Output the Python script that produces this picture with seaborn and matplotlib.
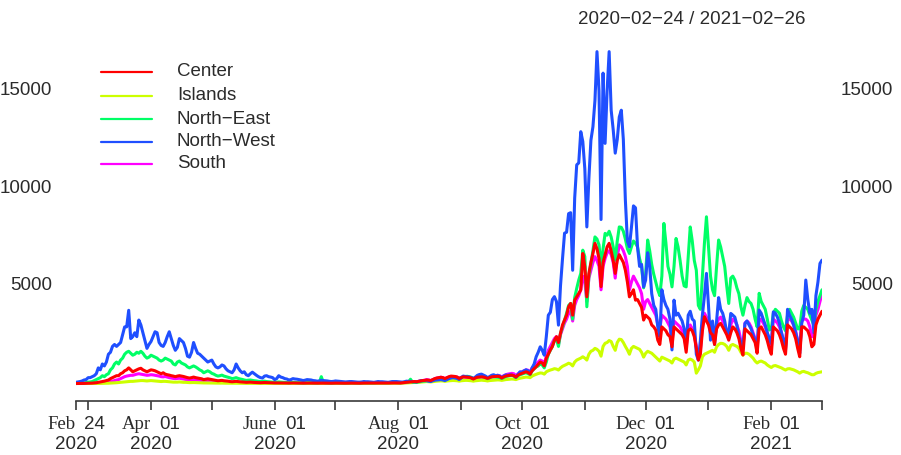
import numpy as np
import pandas as pd
import matplotlib
matplotlib.use("Agg")
import matplotlib.pyplot as plt
import matplotlib.dates as mdates
import matplotlib.transforms as mtransforms
from matplotlib.lines import Line2D
from matplotlib.offsetbox import TextArea, HPacker, AnnotationBbox
import seaborn as sns

# Daily new cases by macro-region, 2020-02-24 .. 2021-02-26 (one row per week, Mon..Sun)
center = [
    0, 0, 2, 3, 5, 8, 10,
    15, 20, 30, 40, 60, 80, 100,
    120, 150, 180, 250, 300, 350, 400,
    400, 500, 550, 650, 700, 800, 700,
    600, 650, 700, 750, 780, 700, 650,
    600, 650, 700, 680, 650, 600, 550,
    500, 550, 480, 450, 430, 400, 380,
    350, 380, 400, 380, 360, 330, 300,
    280, 300, 330, 300, 280, 260, 240,
    200, 220, 240, 220, 200, 180, 160,
    140, 150, 160, 140, 130, 120, 100,
    90, 100, 110, 95, 85, 80, 70,
    60, 65, 70, 60, 55, 50, 45,
    40, 45, 50, 45, 40, 35, 30,
    30, 30, 35, 30, 28, 25, 25,
    22, 25, 28, 25, 22, 20, 20,
    18, 20, 25, 22, 20, 18, 18,
    18, 20, 22, 20, 18, 16, 15,
    15, 18, 20, 18, 16, 15, 15,
    15, 18, 20, 20, 18, 16, 15,
    15, 20, 22, 22, 20, 18, 18,
    18, 22, 25, 25, 22, 20, 20,
    20, 25, 30, 30, 28, 25, 25,
    40, 50, 60, 70, 80, 90, 100,
    90, 110, 130, 150, 160, 180, 170,
    150, 200, 250, 280, 300, 320, 300,
    250, 300, 350, 380, 370, 360, 330,
    260, 300, 340, 330, 320, 310, 280,
    230, 280, 320, 330, 340, 330, 300,
    260, 300, 340, 350, 360, 370, 350,
    280, 340, 380, 400, 420, 430, 400,
    330, 420, 480, 520, 560, 600, 560,
    480, 650, 760, 860, 980, 1100, 1050,
    900, 1300, 1500, 1720, 1900, 2200, 2400,
    2100, 2580, 3000, 3250, 3500, 3930, 4100,
    3500, 4270, 4440, 4600, 4790, 6660, 5980,
    4440, 5640, 6200, 6660, 7180, 6900, 6400,
    4960, 6200, 6600, 7000, 7180, 6800, 6300,
    5640, 6300, 6600, 6400, 6200, 5800, 5200,
    4440, 4600, 4800, 4270, 4300, 4100, 3900,
    3250, 3500, 3400, 3300, 3000, 2900, 2740,
    2220, 2000, 2900, 2800, 2700, 2500, 2400,
    1880, 2900, 2800, 2700, 2600, 2500, 2300,
    1600, 2700, 2800, 2700, 2400, 1800, 1200,
    1500, 2700, 3420, 3200, 3000, 2600, 2500,
    2000, 2800, 3000, 3080, 2900, 2700, 2500,
    2220, 2600, 2900, 2800, 2600, 2300, 1800,
    1460, 2800, 2700, 2600, 2500, 2300, 2100,
    1550, 2800, 2900, 2700, 2500, 2200, 1800,
    1500, 2900, 2800, 2700, 2500, 2200, 1800,
    1500, 3000, 2900, 2800, 2600, 2300, 1800,
    1370, 2900, 2900, 2800, 2700, 2400, 1880,
    2000, 3000, 3300, 3500, 3700,
]

islands = [
    0, 0, 0, 0, 0, 0, 1,
    1, 2, 3, 4, 5, 6, 8,
    10, 12, 15, 20, 25, 30, 40,
    50, 60, 70, 80, 90, 100, 110,
    110, 120, 130, 140, 150, 150, 140,
    130, 140, 150, 140, 130, 120, 110,
    100, 110, 110, 100, 90, 80, 70,
    70, 70, 80, 70, 60, 60, 50,
    45, 50, 50, 45, 40, 35, 30,
    30, 30, 30, 25, 25, 20, 20,
    18, 18, 20, 16, 15, 14, 12,
    12, 12, 14, 12, 10, 10, 8,
    8, 8, 10, 8, 7, 6, 6,
    5, 6, 7, 6, 5, 5, 4,
    4, 5, 6, 5, 4, 4, 4,
    4, 5, 6, 5, 4, 4, 4,
    4, 5, 6, 5, 4, 4, 4,
    4, 5, 6, 5, 4, 4, 4,
    4, 5, 6, 5, 5, 4, 4,
    5, 6, 7, 6, 6, 5, 5,
    6, 7, 8, 8, 7, 6, 6,
    8, 9, 10, 10, 9, 8, 8,
    10, 12, 14, 14, 12, 12, 12,
    20, 25, 30, 35, 40, 45, 50,
    50, 60, 70, 80, 90, 100, 90,
    80, 95, 110, 120, 130, 135, 130,
    110, 130, 140, 150, 155, 150, 140,
    120, 140, 150, 160, 160, 150, 140,
    120, 140, 150, 160, 170, 160, 150,
    130, 150, 160, 170, 180, 185, 180,
    160, 180, 200, 210, 220, 230, 220,
    200, 240, 270, 290, 310, 330, 320,
    300, 380, 430, 470, 510, 540, 530,
    480, 600, 650, 690, 720, 760, 740,
    690, 800, 880, 930, 980, 1040, 1000,
    900, 1100, 1200, 1250, 1300, 1370, 1300,
    1200, 1500, 1650, 1700, 1800, 1750, 1650,
    1400, 1900, 2060, 2100, 2200, 2150, 1900,
    1700, 2100, 2270, 2250, 2100, 1900, 1720,
    1500, 1800, 1900, 1850, 1800, 1750, 1600,
    1350, 1550, 1650, 1600, 1550, 1450, 1350,
    1250, 1150, 1350, 1300, 1250, 1200, 1150,
    1050, 1250, 1300, 1250, 1200, 1150, 1100,
    950, 1200, 1250, 1200, 1100, 530, 700,
    900, 1370, 1500, 1550, 1600, 1650, 1700,
    1600, 1880, 2000, 2060, 2050, 2000, 1900,
    1700, 1950, 2000, 1950, 1900, 1800, 1600,
    1450, 1550, 1550, 1500, 1400, 1300, 1150,
    1050, 1120, 1150, 1100, 1050, 950, 880,
    820, 900, 920, 880, 840, 800, 740,
    690, 750, 760, 730, 700, 650, 600,
    530, 600, 620, 580, 550, 500, 450,
    450, 520, 560, 580, 600,
]

north_east = [
    0, 5, 10, 20, 30, 50, 70,
    80, 100, 150, 200, 250, 300, 400,
    350, 450, 500, 700, 800, 1000, 1100,
    1000, 1200, 1300, 1500, 1600, 1650, 1550,
    1450, 1500, 1600, 1550, 1650, 1550, 1400,
    1300, 1350, 1450, 1400, 1350, 1300, 1200,
    1150, 1200, 1300, 1250, 1200, 1150, 1000,
    950, 1100, 1150, 1050, 1000, 950, 850,
    800, 850, 900, 850, 780, 700, 650,
    550, 600, 650, 600, 520, 480, 420,
    380, 400, 430, 380, 350, 320, 290,
    250, 270, 300, 260, 230, 210, 180,
    160, 170, 180, 160, 140, 130, 110,
    100, 110, 120, 100, 90, 80, 70,
    60, 70, 80, 70, 60, 55, 50,
    40, 50, 60, 50, 45, 40, 40,
    35, 40, 50, 45, 40, 40, 35,
    30, 40, 350, 60, 40, 35, 30,
    30, 35, 40, 40, 35, 30, 30,
    30, 35, 40, 40, 35, 30, 30,
    30, 40, 45, 45, 40, 35, 35,
    35, 45, 50, 50, 45, 40, 40,
    40, 50, 60, 60, 55, 50, 45,
    50, 60, 70, 75, 220, 65, 60,
    60, 80, 100, 120, 130, 150, 130,
    120, 180, 220, 250, 260, 280, 250,
    200, 260, 300, 320, 340, 330, 300,
    250, 300, 350, 360, 370, 350, 320,
    250, 300, 330, 340, 350, 330, 300,
    250, 290, 330, 340, 330, 320, 300,
    260, 300, 360, 380, 400, 420, 380,
    300, 400, 450, 480, 520, 550, 500,
    450, 650, 750, 850, 900, 1000, 950,
    800, 1100, 1500, 1700, 1900, 2200, 2300,
    1900, 2560, 2900, 3250, 3600, 4000, 4100,
    3300, 4400, 4870, 5300, 5640, 6830, 6500,
    3930, 5500, 6150, 6800, 7510, 7400, 7100,
    5980, 6900, 7690, 7600, 7800, 7500, 7000,
    6320, 7300, 8020, 8000, 7800, 7400, 6900,
    6660, 7000, 7300, 7180, 7000, 6400, 6000,
    4900, 5600, 7350, 6800, 6100, 5600, 5200,
    4790, 4500, 5500, 8200, 7200, 6000, 5600,
    4950, 6000, 7430, 7000, 6300, 5500, 5000,
    4950, 6500, 8020, 7300, 6300, 5800, 4000,
    3800, 5500, 7180, 8540, 7000, 5500, 4800,
    4500, 6000, 7350, 7000, 6490, 6000, 5000,
    4100, 5400, 5500, 5300, 4900, 4600, 3930,
    3500, 4000, 4400, 4200, 4100, 3800, 3300,
    2900, 4620, 4200, 4000, 3800, 3300, 2740,
    2800, 3600, 3800, 3700, 3600, 3200, 2900,
    2700, 3500, 3800, 3600, 3400, 3100, 2800,
    2800, 3700, 4000, 3900, 3800, 3500, 3250,
    3000, 3800, 4200, 4500, 4800,
]

north_west = [
    60, 80, 100, 130, 180, 200, 300,
    300, 350, 400, 500, 800, 700, 1000,
    900, 1100, 1500, 1600, 1900, 2000, 1900,
    2000, 2100, 2500, 2900, 2900, 3750, 2300,
    2400, 2600, 2400, 3250, 3000, 2600, 2200,
    1800, 2000, 2150, 2400, 2650, 2600, 2100,
    1950, 1900, 2100, 2400, 2650, 2300, 1950,
    1700, 1850, 2300, 2200, 2100, 1800, 1400,
    1350, 1600, 2100, 1800, 1550, 1500, 1400,
    1300, 1200, 1100, 1150, 1200, 1000, 850,
    800, 850, 950, 900, 750, 650, 600,
    550, 700, 1000, 800, 650, 550, 600,
    450, 400, 500, 580, 500, 420, 350,
    300, 280, 380, 400, 350, 330, 300,
    200, 250, 400, 330, 300, 250, 230,
    180, 200, 250, 230, 220, 200, 180,
    150, 170, 200, 190, 180, 150, 140,
    120, 130, 170, 150, 140, 130, 110,
    100, 110, 130, 120, 110, 100, 90,
    80, 90, 100, 100, 90, 80, 70,
    70, 80, 100, 90, 90, 80, 70,
    60, 80, 100, 90, 90, 80, 70,
    60, 80, 100, 100, 100, 90, 80,
    70, 90, 120, 110, 110, 100, 90,
    80, 110, 140, 150, 150, 140, 120,
    100, 140, 170, 180, 190, 200, 180,
    150, 200, 250, 280, 300, 280, 260,
    200, 280, 380, 360, 350, 330, 300,
    250, 330, 420, 460, 480, 430, 380,
    300, 350, 420, 450, 400, 420, 380,
    300, 380, 440, 420, 450, 430, 400,
    320, 450, 600, 580, 650, 700, 650,
    500, 800, 1000, 1370, 1600, 1880, 1700,
    1450, 2400, 3500, 3650, 4300, 4450, 4200,
    2990, 5000, 6400, 7700, 7750, 8700, 8750,
    5800, 9500, 11200, 11300, 12900, 12400, 11000,
    8020, 10500, 12460, 13150, 14500, 17000, 15000,
    8400, 15900, 12300, 15000, 17000, 14000, 13000,
    11800, 12500, 13650, 14000, 12500, 9400, 7300,
    7000, 8000, 9100, 9000, 7000, 6000, 6100,
    4950, 5300, 6700, 6000, 4600, 4000, 3800,
    2900, 2400, 4800, 4300, 4000, 3800, 3300,
    1720, 4270, 3500, 3600, 3400, 3200, 2800,
    2000, 3500, 3700, 3300, 3200, 1500, 1200,
    2200, 3500, 4500, 5640, 4000, 2220, 3200,
    2000, 3200, 4400, 3800, 3600, 3200, 2600,
    2560, 3590, 3500, 3400, 3000, 2400, 2100,
    1880, 3080, 3200, 3000, 2800, 2500, 2200,
    1800, 3760, 3600, 3300, 3000, 2600, 2300,
    2050, 3670, 3600, 3400, 3100, 2600, 2200,
    1720, 3800, 3500, 3300, 3000, 2600, 2200,
    1540, 3100, 3500, 5300, 4300, 3600, 3800,
    2600, 4500, 5200, 6150, 6320,
]

south = [
    0, 0, 0, 1, 2, 3, 5,
    5, 8, 10, 15, 20, 30, 40,
    50, 60, 80, 100, 120, 150, 180,
    200, 250, 300, 350, 380, 400, 420,
    420, 450, 480, 500, 480, 460, 440,
    420, 430, 450, 440, 420, 400, 380,
    350, 340, 360, 330, 300, 280, 260,
    250, 260, 270, 250, 230, 210, 190,
    180, 190, 200, 180, 170, 160, 150,
    130, 140, 150, 130, 120, 110, 100,
    90, 100, 100, 90, 80, 70, 60,
    55, 60, 60, 55, 50, 45, 40,
    35, 40, 40, 35, 30, 30, 25,
    25, 28, 30, 26, 24, 22, 20,
    18, 20, 22, 20, 18, 16, 15,
    14, 15, 17, 15, 14, 13, 12,
    12, 13, 15, 14, 13, 12, 12,
    12, 13, 15, 14, 13, 12, 12,
    12, 13, 15, 14, 13, 12, 12,
    12, 14, 16, 15, 14, 13, 13,
    14, 16, 18, 17, 16, 15, 15,
    16, 18, 20, 20, 18, 17, 17,
    20, 22, 25, 25, 24, 22, 22,
    30, 40, 50, 60, 70, 80, 90,
    80, 110, 130, 150, 170, 200, 180,
    150, 200, 250, 280, 300, 320, 300,
    250, 300, 330, 350, 360, 350, 330,
    280, 320, 340, 330, 330, 320, 300,
    250, 300, 330, 340, 350, 340, 320,
    260, 320, 360, 380, 400, 420, 400,
    330, 400, 450, 480, 500, 520, 500,
    400, 500, 560, 600, 650, 700, 680,
    600, 800, 900, 1000, 1100, 1200, 1150,
    1000, 1400, 1700, 1900, 2100, 2300, 2400,
    2000, 2500, 2800, 3100, 3300, 3600, 3700,
    3200, 4000, 4300, 4500, 4800, 5500, 5200,
    4200, 5400, 5800, 6200, 6500, 6300, 6000,
    4800, 6000, 6400, 6700, 6800, 6600, 6200,
    5400, 6500, 7100, 7000, 6800, 6500, 6000,
    4800, 5200, 5500, 5300, 5100, 4900, 4600,
    3800, 4200, 4300, 4100, 3900, 3700, 3500,
    3000, 2800, 3500, 3400, 3300, 3100, 2900,
    2200, 3200, 3100, 3000, 2900, 2700, 2500,
    1800, 2900, 3000, 2800, 2500, 1900, 1400,
    1700, 2900, 3600, 3400, 3200, 2900, 2700,
    2200, 3000, 3300, 3400, 3200, 3000, 2700,
    2400, 3000, 3300, 3200, 3000, 2700, 2200,
    1800, 3100, 3200, 3100, 2900, 2600, 2300,
    1800, 3200, 3300, 3100, 2900, 2600, 2200,
    1800, 3300, 3200, 3100, 2900, 2600, 2200,
    1800, 3300, 3300, 3200, 3000, 2700, 2200,
    1700, 3200, 3300, 3300, 3200, 2900, 2400,
    2400, 3500, 3800, 4200, 4600,
]

regions = ["Center", "Islands", "North\u2212East", "North\u2212West", "South"]
series = [center, islands, north_east, north_west, south]
palette = dict(zip(regions, ["#FF0000", "#CCFF00", "#00FF66", "#1F4FFF", "#FF00FF"]))

dates = pd.date_range("2020-02-24", "2021-02-26", freq="D")
frames = []
for name, vals in zip(regions, series):
    frames.append(pd.DataFrame({"date": dates, "cases": vals, "region": name}))
df = pd.concat(frames, ignore_index=True)

tick_dates = pd.to_datetime([
    "2020-02-24", "2020-03-01", "2020-04-01", "2020-05-01", "2020-06-01",
    "2020-07-01", "2020-08-01", "2020-09-01", "2020-10-01", "2020-11-01",
    "2020-12-01", "2021-01-01", "2021-02-01", "2021-02-26",
])
label_dates = pd.to_datetime([
    "2020-02-24", "2020-04-01", "2020-06-01", "2020-08-01",
    "2020-10-01", "2020-12-01", "2021-02-01",
])
label_month = ["Feb", "Apr", "June", "Aug", "Oct", "Dec", "Feb"]
label_day = ["24", "01", "01", "01", "01", "01", "01"]
label_year = ["2020", "2020", "2020", "2020", "2020", "2020", "2021"]
y_ticks = [5000, 10000, 15000]

sns.set_theme(style="white")
plt.rcParams["font.family"] = ["Liberation Sans", "DejaVu Sans"]

W, H = 901, 455
fig = plt.figure(figsize=(W / 100, H / 100), dpi=100)
ax = fig.add_axes([76 / W, 1 - 400.7 / H, 746 / W, 363.7 / H])

draw_order = ["South", "Islands", "North\u2212East", "North\u2212West", "Center"]
sns.lineplot(data=df, x="date", y="cases", hue="region", hue_order=draw_order,
             palette=palette, linewidth=2.2, legend=False, ax=ax)

ax.set_xlim(dates[0], dates[-1])
ax.set_ylim(-881, 17750)
ax.set_xlabel("")
ax.set_ylabel("")
for side in ["top", "left", "right"]:
    ax.spines[side].set_visible(False)
ax.spines["bottom"].set_color("#3a3a3a")
ax.spines["bottom"].set_linewidth(1.2)
ax.set_xticks(tick_dates)
ax.set_xticklabels([])
ax.set_yticks([])
ax.tick_params(axis="x", direction="out", length=6.5, width=1.2, color="#3a3a3a",
               bottom=True)
ax.grid(False)

txt_color = "#2b2b2b"
fs = 13.5

# two-line date labels: serif month + sans day, year below
for d, m, dd, yy in zip(label_dates, label_month, label_day, label_year):
    xnum = mdates.date2num(d)
    box = HPacker(children=[
        TextArea(m, textprops=dict(family="Liberation Serif", size=fs, color=txt_color)),
        TextArea(dd, textprops=dict(family="Liberation Sans", size=fs, color=txt_color)),
    ], align="baseline", pad=0, sep=6)
    ab = AnnotationBbox(box, (xnum, 0), xycoords=ax.get_xaxis_transform(),
                        xybox=(0, -17.3), boxcoords="offset points",
                        box_alignment=(0.5, 0.5), frameon=False, pad=0)
    ax.add_artist(ab)
    ax.annotate(yy, (xnum, 0), xycoords=ax.get_xaxis_transform(),
                xytext=(0, -31.6), textcoords="offset points",
                ha="center", va="center", fontsize=fs, color=txt_color,
                annotation_clip=False)

# y labels on both sides
tr = mtransforms.blended_transform_factory(fig.transFigure, ax.transData)
for v in y_ticks:
    fig.text(52 / W, v, f"{v}", transform=tr, ha="right", va="center",
             fontsize=fs, color=txt_color)
    fig.text(893 / W, v, f"{v}", transform=tr, ha="right", va="center",
             fontsize=fs, color=txt_color)

fig.text(692 / W, 1 - 20 / H, "2020\u221202\u221224 / 2021\u221202\u221226",
         ha="center", va="center", fontsize=fs, color=txt_color)

# legend
leg_rows = [72, 96, 119, 142, 164]
for name, yrow in zip(regions, leg_rows):
    yf = 1 - yrow / H
    fig.add_artist(Line2D([101 / W, 152 / W], [yf, yf], transform=fig.transFigure,
                          color=palette[name], linewidth=1.6))
    fig.text(177 / W, yf, name, ha="left", va="center", fontsize=fs, color=txt_color)

fig.savefig("out.png", dpi=100)
